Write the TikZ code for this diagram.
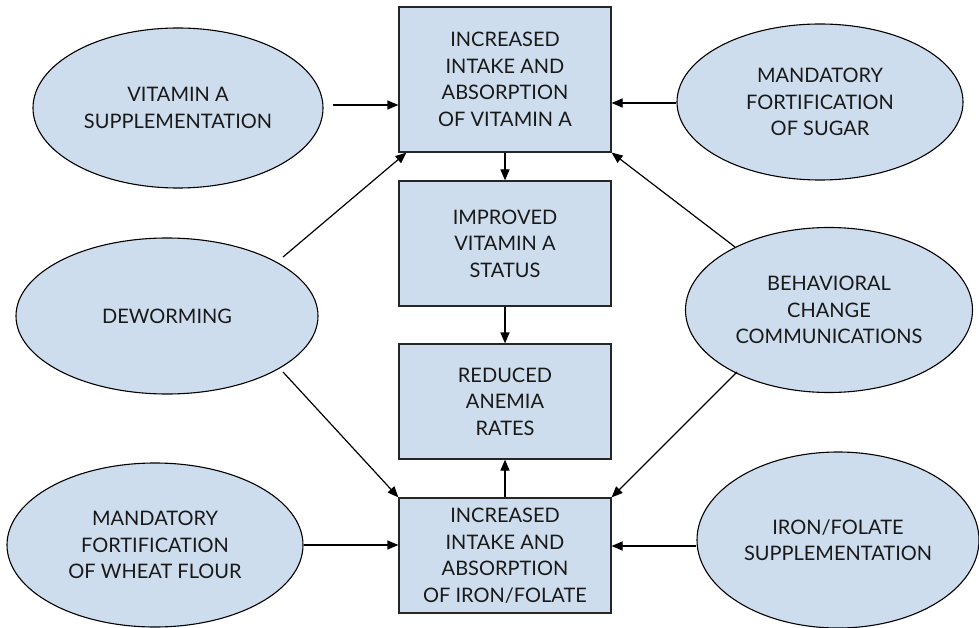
\documentclass[tikz,border=0pt]{standalone}
\usepackage{fontspec}
\setmainfont{Lato}
\usetikzlibrary{shapes.geometric,arrows.meta}
\definecolor{boxfill}{RGB}{206,221,237}
\tikzset{
  every node/.style={font=\fontsize{20}{26.5}\selectfont, text=black!90, align=center},
  box/.style={draw=black!85, line width=1.2pt, fill=boxfill, rectangle, minimum width=212pt, inner sep=0pt},
  oval/.style={draw=black, line width=1.1pt, fill=boxfill, ellipse, inner sep=0pt},
  arr/.style={draw=black, line width=1.2pt, -{Triangle[length=11pt,width=9pt]}}
}
\begin{document}
\begin{tikzpicture}[x=1pt,y=-1pt]
\useasboundingbox (0,0) rectangle (979,628);
\node[box, minimum height=145pt] (top) at (505,79.5) {INCREASED\\INTAKE AND\\ABSORPTION\\OF VITAMIN A};
\node[box, minimum height=125pt] (mid) at (505,243.5) {IMPROVED\\VITAMIN A\\STATUS};
\node[box, minimum height=115pt] (red) at (505,401.5) {REDUCED\\ANEMIA\\RATES};
\node[box, minimum height=115pt] (bot) at (505,555.5) {INCREASED\\INTAKE AND\\ABSORPTION\\OF IRON/FOLATE};
\node[oval, minimum width=290pt, minimum height=160pt] (vita) at (178,108) {VITAMIN A\\SUPPLEMENTATION};
\node[oval, minimum width=286pt, minimum height=156pt] (sugar) at (820,102) {MANDATORY\\FORTIFICATION\\OF SUGAR};
\node[oval, minimum width=302pt, minimum height=156pt] (dew) at (167,316) {DEWORMING};
\node[oval, minimum width=287pt, minimum height=165pt] (beh) at (829,310) {BEHAVIORAL\\CHANGE\\COMMUNICATIONS};
\node[oval, minimum width=296pt, minimum height=164pt] (wheat) at (155,545) {MANDATORY\\FORTIFICATION\\OF WHEAT FLOUR};
\node[oval, minimum width=282pt, minimum height=176pt] (iron) at (838,540) {IRON/FOLATE\\SUPPLEMENTATION};
% connectors
\draw[arr] ([shift={(9,-3)}]vita.east) -- ([shift={(0,-3)}]vita.east -| top.west);
\draw[arr] ([shift={(0,1)}]sugar.west) -- ([shift={(0,1)}]sugar.west -| top.east);
\draw[arr] ([shift={(116,-59)}]dew.center) -- ([shift={(8,0)}]top.south west);
\draw[arr] ([shift={(-94,-63)}]beh.center) -- (top.south east);
\draw[arr] ([shift={(116,56)}]dew.center) -- (bot.north west);
\draw[arr] ([shift={(-92,62)}]beh.center) -- (bot.north east);
\draw[arr] (wheat.east) -- (wheat.east -| bot.west);
\draw[arr] ([shift={(0,6)}]iron.west) -- ([shift={(0,6)}]iron.west -| bot.east);
\draw[arr] (top) -- (mid);
\draw[arr] (mid) -- (red);
\draw[arr] (bot) -- (red);
\end{tikzpicture}
\end{document}
